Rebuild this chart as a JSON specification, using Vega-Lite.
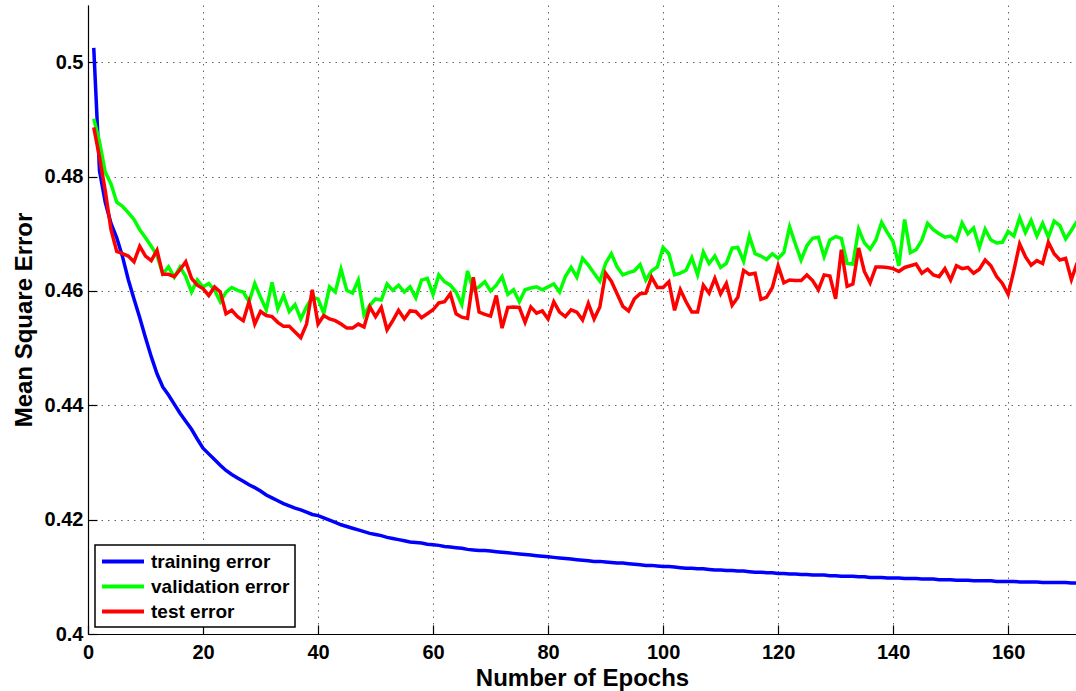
{
"$schema":"https://vega.github.io/schema/vega-lite/v6.json",
"width":988,"height":629,
"autosize":{"type":"none"},
"padding":{"left":88,"top":5,"right":0,"bottom":57},
"background":"white",
"config":{"view":{"stroke":null},
 "axis":{"domainColor":"black","domainWidth":1.2,"tickColor":"black","tickWidth":1.2,"tickSize":-9,
  "labelFont":"Liberation Sans","labelFontWeight":"bold","labelFontSize":20,"labelColor":"black","labelFlush":false,
  "titleFont":"Liberation Sans","titleFontWeight":"bold","titleFontSize":24,"titleColor":"black",
  "grid":true,"gridColor":"#000000","gridOpacity":0.6,"gridDash":[1.5,5],"gridWidth":1},
 "legend":{"strokeWidth":1.5}},
"datasets":{
"training":[{"epoch":1,"mse":0.5025},{"epoch":2,"mse":0.4810},{"epoch":3,"mse":0.4755},{"epoch":4,"mse":0.4718},{"epoch":5,"mse":0.4693},{"epoch":6,"mse":0.4660},{"epoch":7,"mse":0.4620},{"epoch":8,"mse":0.4586},{"epoch":9,"mse":0.4553},{"epoch":10,"mse":0.4518},{"epoch":11,"mse":0.4485},{"epoch":12,"mse":0.4455},{"epoch":13,"mse":0.4432},{"epoch":14,"mse":0.4418},{"epoch":15,"mse":0.4402},{"epoch":16,"mse":0.4386},{"epoch":17,"mse":0.4372},{"epoch":18,"mse":0.4358},{"epoch":19,"mse":0.4341},{"epoch":20,"mse":0.4325},{"epoch":21,"mse":0.4315},{"epoch":22,"mse":0.4305},{"epoch":23,"mse":0.4295},{"epoch":24,"mse":0.4286},{"epoch":25,"mse":0.4279},{"epoch":26,"mse":0.4273},{"epoch":27,"mse":0.4267},{"epoch":28,"mse":0.4261},{"epoch":29,"mse":0.4256},{"epoch":30,"mse":0.4250},{"epoch":31,"mse":0.4243},{"epoch":32,"mse":0.4238},{"epoch":33,"mse":0.4233},{"epoch":34,"mse":0.4228},{"epoch":35,"mse":0.4224},{"epoch":36,"mse":0.4220},{"epoch":37,"mse":0.4217},{"epoch":38,"mse":0.4213},{"epoch":39,"mse":0.4209},{"epoch":40,"mse":0.4207},{"epoch":41,"mse":0.4203},{"epoch":42,"mse":0.4199},{"epoch":43,"mse":0.4195},{"epoch":44,"mse":0.4191},{"epoch":45,"mse":0.4188},{"epoch":46,"mse":0.4185},{"epoch":47,"mse":0.4182},{"epoch":48,"mse":0.4179},{"epoch":49,"mse":0.4176},{"epoch":50,"mse":0.4174},{"epoch":51,"mse":0.4172},{"epoch":52,"mse":0.4169},{"epoch":53,"mse":0.4167},{"epoch":54,"mse":0.4165},{"epoch":55,"mse":0.4163},{"epoch":56,"mse":0.4161},{"epoch":57,"mse":0.4160},{"epoch":58,"mse":0.4159},{"epoch":59,"mse":0.4157},{"epoch":60,"mse":0.4156},{"epoch":61,"mse":0.4155},{"epoch":62,"mse":0.4153},{"epoch":63,"mse":0.4152},{"epoch":64,"mse":0.4151},{"epoch":65,"mse":0.4150},{"epoch":66,"mse":0.4148},{"epoch":67,"mse":0.4147},{"epoch":68,"mse":0.4146},{"epoch":69,"mse":0.4146},{"epoch":70,"mse":0.4145},{"epoch":71,"mse":0.4144},{"epoch":72,"mse":0.4143},{"epoch":73,"mse":0.4142},{"epoch":74,"mse":0.4141},{"epoch":75,"mse":0.4140},{"epoch":76,"mse":0.4139},{"epoch":77,"mse":0.4138},{"epoch":78,"mse":0.4137},{"epoch":79,"mse":0.4136},{"epoch":80,"mse":0.4135},{"epoch":81,"mse":0.4134},{"epoch":82,"mse":0.4133},{"epoch":83,"mse":0.4132},{"epoch":84,"mse":0.4131},{"epoch":85,"mse":0.4130},{"epoch":86,"mse":0.4129},{"epoch":87,"mse":0.4128},{"epoch":88,"mse":0.4127},{"epoch":89,"mse":0.4127},{"epoch":90,"mse":0.4126},{"epoch":91,"mse":0.4125},{"epoch":92,"mse":0.4124},{"epoch":93,"mse":0.4124},{"epoch":94,"mse":0.4123},{"epoch":95,"mse":0.4122},{"epoch":96,"mse":0.4121},{"epoch":97,"mse":0.4120},{"epoch":98,"mse":0.4120},{"epoch":99,"mse":0.4119},{"epoch":100,"mse":0.4118},{"epoch":101,"mse":0.4118},{"epoch":102,"mse":0.4117},{"epoch":103,"mse":0.4116},{"epoch":104,"mse":0.4115},{"epoch":105,"mse":0.4115},{"epoch":106,"mse":0.4114},{"epoch":107,"mse":0.4114},{"epoch":108,"mse":0.4113},{"epoch":109,"mse":0.4112},{"epoch":110,"mse":0.4112},{"epoch":111,"mse":0.4111},{"epoch":112,"mse":0.4111},{"epoch":113,"mse":0.4110},{"epoch":114,"mse":0.4110},{"epoch":115,"mse":0.4109},{"epoch":116,"mse":0.4108},{"epoch":117,"mse":0.4108},{"epoch":118,"mse":0.4107},{"epoch":119,"mse":0.4107},{"epoch":120,"mse":0.4106},{"epoch":121,"mse":0.4106},{"epoch":122,"mse":0.4105},{"epoch":123,"mse":0.4105},{"epoch":124,"mse":0.4104},{"epoch":125,"mse":0.4104},{"epoch":126,"mse":0.4103},{"epoch":127,"mse":0.4103},{"epoch":128,"mse":0.4103},{"epoch":129,"mse":0.4102},{"epoch":130,"mse":0.4102},{"epoch":131,"mse":0.4101},{"epoch":132,"mse":0.4101},{"epoch":133,"mse":0.4101},{"epoch":134,"mse":0.4100},{"epoch":135,"mse":0.4100},{"epoch":136,"mse":0.4099},{"epoch":137,"mse":0.4099},{"epoch":138,"mse":0.4099},{"epoch":139,"mse":0.4098},{"epoch":140,"mse":0.4098},{"epoch":141,"mse":0.4098},{"epoch":142,"mse":0.4097},{"epoch":143,"mse":0.4097},{"epoch":144,"mse":0.4097},{"epoch":145,"mse":0.4096},{"epoch":146,"mse":0.4096},{"epoch":147,"mse":0.4096},{"epoch":148,"mse":0.4095},{"epoch":149,"mse":0.4095},{"epoch":150,"mse":0.4095},{"epoch":151,"mse":0.4094},{"epoch":152,"mse":0.4094},{"epoch":153,"mse":0.4094},{"epoch":154,"mse":0.4093},{"epoch":155,"mse":0.4093},{"epoch":156,"mse":0.4093},{"epoch":157,"mse":0.4093},{"epoch":158,"mse":0.4092},{"epoch":159,"mse":0.4092},{"epoch":160,"mse":0.4092},{"epoch":161,"mse":0.4092},{"epoch":162,"mse":0.4091},{"epoch":163,"mse":0.4091},{"epoch":164,"mse":0.4091},{"epoch":165,"mse":0.4091},{"epoch":166,"mse":0.4090},{"epoch":167,"mse":0.4090},{"epoch":168,"mse":0.4090},{"epoch":169,"mse":0.4090},{"epoch":170,"mse":0.4090},{"epoch":171,"mse":0.4089},{"epoch":172,"mse":0.4089}],
"validation":[{"epoch":1,"mse":0.4901},{"epoch":2,"mse":0.4861},{"epoch":3,"mse":0.4808},{"epoch":4,"mse":0.4787},{"epoch":5,"mse":0.4755},{"epoch":6,"mse":0.4748},{"epoch":7,"mse":0.4737},{"epoch":8,"mse":0.4725},{"epoch":9,"mse":0.4707},{"epoch":10,"mse":0.4693},{"epoch":11,"mse":0.4678},{"epoch":12,"mse":0.4662},{"epoch":13,"mse":0.4630},{"epoch":14,"mse":0.4642},{"epoch":15,"mse":0.4624},{"epoch":16,"mse":0.4642},{"epoch":17,"mse":0.4625},{"epoch":18,"mse":0.4598},{"epoch":19,"mse":0.4619},{"epoch":20,"mse":0.4607},{"epoch":21,"mse":0.4613},{"epoch":22,"mse":0.4601},{"epoch":23,"mse":0.4581},{"epoch":24,"mse":0.4598},{"epoch":25,"mse":0.4606},{"epoch":26,"mse":0.4601},{"epoch":27,"mse":0.4598},{"epoch":28,"mse":0.4581},{"epoch":29,"mse":0.4613},{"epoch":30,"mse":0.4589},{"epoch":31,"mse":0.4567},{"epoch":32,"mse":0.4615},{"epoch":33,"mse":0.4569},{"epoch":34,"mse":0.4592},{"epoch":35,"mse":0.4564},{"epoch":36,"mse":0.4576},{"epoch":37,"mse":0.4551},{"epoch":38,"mse":0.4572},{"epoch":39,"mse":0.4589},{"epoch":40,"mse":0.4586},{"epoch":41,"mse":0.4561},{"epoch":42,"mse":0.4607},{"epoch":43,"mse":0.4598},{"epoch":44,"mse":0.4638},{"epoch":45,"mse":0.4601},{"epoch":46,"mse":0.4596},{"epoch":47,"mse":0.4619},{"epoch":48,"mse":0.4558},{"epoch":49,"mse":0.4575},{"epoch":50,"mse":0.4586},{"epoch":51,"mse":0.4584},{"epoch":52,"mse":0.4612},{"epoch":53,"mse":0.4601},{"epoch":54,"mse":0.4610},{"epoch":55,"mse":0.4598},{"epoch":56,"mse":0.4607},{"epoch":57,"mse":0.4588},{"epoch":58,"mse":0.4619},{"epoch":59,"mse":0.4622},{"epoch":60,"mse":0.4594},{"epoch":61,"mse":0.4628},{"epoch":62,"mse":0.4616},{"epoch":63,"mse":0.4610},{"epoch":64,"mse":0.4598},{"epoch":65,"mse":0.4576},{"epoch":66,"mse":0.4635},{"epoch":67,"mse":0.4601},{"epoch":68,"mse":0.4607},{"epoch":69,"mse":0.4616},{"epoch":70,"mse":0.4600},{"epoch":71,"mse":0.4610},{"epoch":72,"mse":0.4625},{"epoch":73,"mse":0.4594},{"epoch":74,"mse":0.4602},{"epoch":75,"mse":0.4581},{"epoch":76,"mse":0.4602},{"epoch":77,"mse":0.4605},{"epoch":78,"mse":0.4607},{"epoch":79,"mse":0.4602},{"epoch":80,"mse":0.4607},{"epoch":81,"mse":0.4612},{"epoch":82,"mse":0.4598},{"epoch":83,"mse":0.4625},{"epoch":84,"mse":0.4641},{"epoch":85,"mse":0.4624},{"epoch":86,"mse":0.4657},{"epoch":87,"mse":0.4645},{"epoch":88,"mse":0.4631},{"epoch":89,"mse":0.4617},{"epoch":90,"mse":0.4648},{"epoch":91,"mse":0.4665},{"epoch":92,"mse":0.4642},{"epoch":93,"mse":0.4628},{"epoch":94,"mse":0.4632},{"epoch":95,"mse":0.4635},{"epoch":96,"mse":0.4646},{"epoch":97,"mse":0.4619},{"epoch":98,"mse":0.4635},{"epoch":99,"mse":0.4642},{"epoch":100,"mse":0.4676},{"epoch":101,"mse":0.4665},{"epoch":102,"mse":0.4628},{"epoch":103,"mse":0.4631},{"epoch":104,"mse":0.4636},{"epoch":105,"mse":0.4658},{"epoch":106,"mse":0.4628},{"epoch":107,"mse":0.4668},{"epoch":108,"mse":0.4648},{"epoch":109,"mse":0.4661},{"epoch":110,"mse":0.4641},{"epoch":111,"mse":0.4648},{"epoch":112,"mse":0.4675},{"epoch":113,"mse":0.4676},{"epoch":114,"mse":0.4652},{"epoch":115,"mse":0.4696},{"epoch":116,"mse":0.4665},{"epoch":117,"mse":0.4661},{"epoch":118,"mse":0.4655},{"epoch":119,"mse":0.4665},{"epoch":120,"mse":0.4657},{"epoch":121,"mse":0.4667},{"epoch":122,"mse":0.4712},{"epoch":123,"mse":0.4682},{"epoch":124,"mse":0.4654},{"epoch":125,"mse":0.4679},{"epoch":126,"mse":0.4692},{"epoch":127,"mse":0.4694},{"epoch":128,"mse":0.4660},{"epoch":129,"mse":0.4689},{"epoch":130,"mse":0.4695},{"epoch":131,"mse":0.4692},{"epoch":132,"mse":0.4648},{"epoch":133,"mse":0.4647},{"epoch":134,"mse":0.4708},{"epoch":135,"mse":0.4684},{"epoch":136,"mse":0.4673},{"epoch":137,"mse":0.4689},{"epoch":138,"mse":0.4720},{"epoch":139,"mse":0.4702},{"epoch":140,"mse":0.4686},{"epoch":141,"mse":0.4644},{"epoch":142,"mse":0.4725},{"epoch":143,"mse":0.4667},{"epoch":144,"mse":0.4672},{"epoch":145,"mse":0.4689},{"epoch":146,"mse":0.4718},{"epoch":147,"mse":0.4707},{"epoch":148,"mse":0.4700},{"epoch":149,"mse":0.4694},{"epoch":150,"mse":0.4696},{"epoch":151,"mse":0.4688},{"epoch":152,"mse":0.4719},{"epoch":153,"mse":0.4700},{"epoch":154,"mse":0.4710},{"epoch":155,"mse":0.4676},{"epoch":156,"mse":0.4708},{"epoch":157,"mse":0.4689},{"epoch":158,"mse":0.4684},{"epoch":159,"mse":0.4685},{"epoch":160,"mse":0.4704},{"epoch":161,"mse":0.4696},{"epoch":162,"mse":0.4728},{"epoch":163,"mse":0.4702},{"epoch":164,"mse":0.4723},{"epoch":165,"mse":0.4696},{"epoch":166,"mse":0.4718},{"epoch":167,"mse":0.4694},{"epoch":168,"mse":0.4722},{"epoch":169,"mse":0.4714},{"epoch":170,"mse":0.4691},{"epoch":171,"mse":0.4706},{"epoch":172,"mse":0.4722}],
"test":[{"epoch":1,"mse":0.4886},{"epoch":2,"mse":0.4834},{"epoch":3,"mse":0.4775},{"epoch":4,"mse":0.4707},{"epoch":5,"mse":0.4669},{"epoch":6,"mse":0.4665},{"epoch":7,"mse":0.4661},{"epoch":8,"mse":0.4651},{"epoch":9,"mse":0.4678},{"epoch":10,"mse":0.4661},{"epoch":11,"mse":0.4653},{"epoch":12,"mse":0.4671},{"epoch":13,"mse":0.4629},{"epoch":14,"mse":0.4629},{"epoch":15,"mse":0.4625},{"epoch":16,"mse":0.4637},{"epoch":17,"mse":0.4651},{"epoch":18,"mse":0.4622},{"epoch":19,"mse":0.4610},{"epoch":20,"mse":0.4604},{"epoch":21,"mse":0.4592},{"epoch":22,"mse":0.4607},{"epoch":23,"mse":0.4598},{"epoch":24,"mse":0.4560},{"epoch":25,"mse":0.4566},{"epoch":26,"mse":0.4555},{"epoch":27,"mse":0.4548},{"epoch":28,"mse":0.4581},{"epoch":29,"mse":0.4542},{"epoch":30,"mse":0.4564},{"epoch":31,"mse":0.4557},{"epoch":32,"mse":0.4555},{"epoch":33,"mse":0.4545},{"epoch":34,"mse":0.4538},{"epoch":35,"mse":0.4538},{"epoch":36,"mse":0.4528},{"epoch":37,"mse":0.4518},{"epoch":38,"mse":0.4542},{"epoch":39,"mse":0.4602},{"epoch":40,"mse":0.4542},{"epoch":41,"mse":0.4557},{"epoch":42,"mse":0.4551},{"epoch":43,"mse":0.4548},{"epoch":44,"mse":0.4542},{"epoch":45,"mse":0.4535},{"epoch":46,"mse":0.4535},{"epoch":47,"mse":0.4542},{"epoch":48,"mse":0.4537},{"epoch":49,"mse":0.4572},{"epoch":50,"mse":0.4555},{"epoch":51,"mse":0.4571},{"epoch":52,"mse":0.4532},{"epoch":53,"mse":0.4548},{"epoch":54,"mse":0.4566},{"epoch":55,"mse":0.4551},{"epoch":56,"mse":0.4565},{"epoch":57,"mse":0.4564},{"epoch":58,"mse":0.4553},{"epoch":59,"mse":0.4560},{"epoch":60,"mse":0.4567},{"epoch":61,"mse":0.4579},{"epoch":62,"mse":0.4581},{"epoch":63,"mse":0.4595},{"epoch":64,"mse":0.4560},{"epoch":65,"mse":0.4554},{"epoch":66,"mse":0.4552},{"epoch":67,"mse":0.4624},{"epoch":68,"mse":0.4563},{"epoch":69,"mse":0.4559},{"epoch":70,"mse":0.4556},{"epoch":71,"mse":0.4592},{"epoch":72,"mse":0.4535},{"epoch":73,"mse":0.4571},{"epoch":74,"mse":0.4572},{"epoch":75,"mse":0.4571},{"epoch":76,"mse":0.4545},{"epoch":77,"mse":0.4572},{"epoch":78,"mse":0.4561},{"epoch":79,"mse":0.4565},{"epoch":80,"mse":0.4551},{"epoch":81,"mse":0.4581},{"epoch":82,"mse":0.4563},{"epoch":83,"mse":0.4555},{"epoch":84,"mse":0.4567},{"epoch":85,"mse":0.4563},{"epoch":86,"mse":0.4549},{"epoch":87,"mse":0.4578},{"epoch":88,"mse":0.4551},{"epoch":89,"mse":0.4572},{"epoch":90,"mse":0.4631},{"epoch":91,"mse":0.4617},{"epoch":92,"mse":0.4595},{"epoch":93,"mse":0.4573},{"epoch":94,"mse":0.4565},{"epoch":95,"mse":0.4586},{"epoch":96,"mse":0.4595},{"epoch":97,"mse":0.4596},{"epoch":98,"mse":0.4624},{"epoch":99,"mse":0.4606},{"epoch":100,"mse":0.4606},{"epoch":101,"mse":0.4616},{"epoch":102,"mse":0.4566},{"epoch":103,"mse":0.4602},{"epoch":104,"mse":0.4581},{"epoch":105,"mse":0.4563},{"epoch":106,"mse":0.4563},{"epoch":107,"mse":0.4610},{"epoch":108,"mse":0.4596},{"epoch":109,"mse":0.4622},{"epoch":110,"mse":0.4595},{"epoch":111,"mse":0.4613},{"epoch":112,"mse":0.4575},{"epoch":113,"mse":0.4589},{"epoch":114,"mse":0.4636},{"epoch":115,"mse":0.4629},{"epoch":116,"mse":0.4631},{"epoch":117,"mse":0.4585},{"epoch":118,"mse":0.4589},{"epoch":119,"mse":0.4606},{"epoch":120,"mse":0.4644},{"epoch":121,"mse":0.4614},{"epoch":122,"mse":0.4619},{"epoch":123,"mse":0.4618},{"epoch":124,"mse":0.4618},{"epoch":125,"mse":0.4628},{"epoch":126,"mse":0.4618},{"epoch":127,"mse":0.4602},{"epoch":128,"mse":0.4628},{"epoch":129,"mse":0.4626},{"epoch":130,"mse":0.4586},{"epoch":131,"mse":0.4672},{"epoch":132,"mse":0.4608},{"epoch":133,"mse":0.4612},{"epoch":134,"mse":0.4675},{"epoch":135,"mse":0.4634},{"epoch":136,"mse":0.4614},{"epoch":137,"mse":0.4642},{"epoch":138,"mse":0.4642},{"epoch":139,"mse":0.4641},{"epoch":140,"mse":0.4639},{"epoch":141,"mse":0.4634},{"epoch":142,"mse":0.4641},{"epoch":143,"mse":0.4644},{"epoch":144,"mse":0.4647},{"epoch":145,"mse":0.4631},{"epoch":146,"mse":0.4638},{"epoch":147,"mse":0.4628},{"epoch":148,"mse":0.4625},{"epoch":149,"mse":0.4639},{"epoch":150,"mse":0.4619},{"epoch":151,"mse":0.4644},{"epoch":152,"mse":0.4639},{"epoch":153,"mse":0.4641},{"epoch":154,"mse":0.4631},{"epoch":155,"mse":0.4638},{"epoch":156,"mse":0.4654},{"epoch":157,"mse":0.4644},{"epoch":158,"mse":0.4625},{"epoch":159,"mse":0.4613},{"epoch":160,"mse":0.4594},{"epoch":161,"mse":0.4636},{"epoch":162,"mse":0.4682},{"epoch":163,"mse":0.4660},{"epoch":164,"mse":0.4645},{"epoch":165,"mse":0.4653},{"epoch":166,"mse":0.4648},{"epoch":167,"mse":0.4685},{"epoch":168,"mse":0.4665},{"epoch":169,"mse":0.4654},{"epoch":170,"mse":0.4657},{"epoch":171,"mse":0.4620},{"epoch":172,"mse":0.4649}]
},
"encoding":{
 "x":{"field":"epoch","type":"quantitative","scale":{"domain":[0,171.8],"nice":false,"zero":false},
  "axis":{"values":[0,20,40,60,80,100,120,140,160],"format":"d","title":"Number of Epochs","labelPadding":17,"titlePadding":4}},
 "y":{"field":"mse","type":"quantitative","scale":{"domain":[0.4,0.51],"nice":false,"zero":false},
  "axis":{"values":[0.4,0.42,0.44,0.46,0.48,0.5],"format":".2~f","title":"Mean Square Error","labelPadding":14,"titlePadding":8}}
},
"layer":[
 {"data":{"name":"training"},"mark":{"type":"line","strokeWidth":3.5,"clip":true},
  "encoding":{"color":{"datum":"training error","type":"nominal","scale":{"domain":["training error","validation error","test error"],"range":["#0000ff","#00ff00","#ff0000"]},
   "legend":{"title":null,"orient":"bottom-left","offset":7,"symbolType":"M-1,0H3.42","symbolSize":361,"symbolStrokeWidth":4,
    "labelFont":"Liberation Sans","labelFontSize":19,"labelFontWeight":"bold","labelColor":"black","labelOffset":28,"rowPadding":3,"padding":5,
    "strokeColor":"black","fillColor":"white"}}}},
 {"data":{"name":"validation"},"mark":{"type":"line","strokeWidth":3.5,"clip":true},
  "encoding":{"color":{"datum":"validation error","type":"nominal"}}},
 {"data":{"name":"test"},"mark":{"type":"line","strokeWidth":3.5,"clip":true},
  "encoding":{"color":{"datum":"test error","type":"nominal"}}}
]
}
